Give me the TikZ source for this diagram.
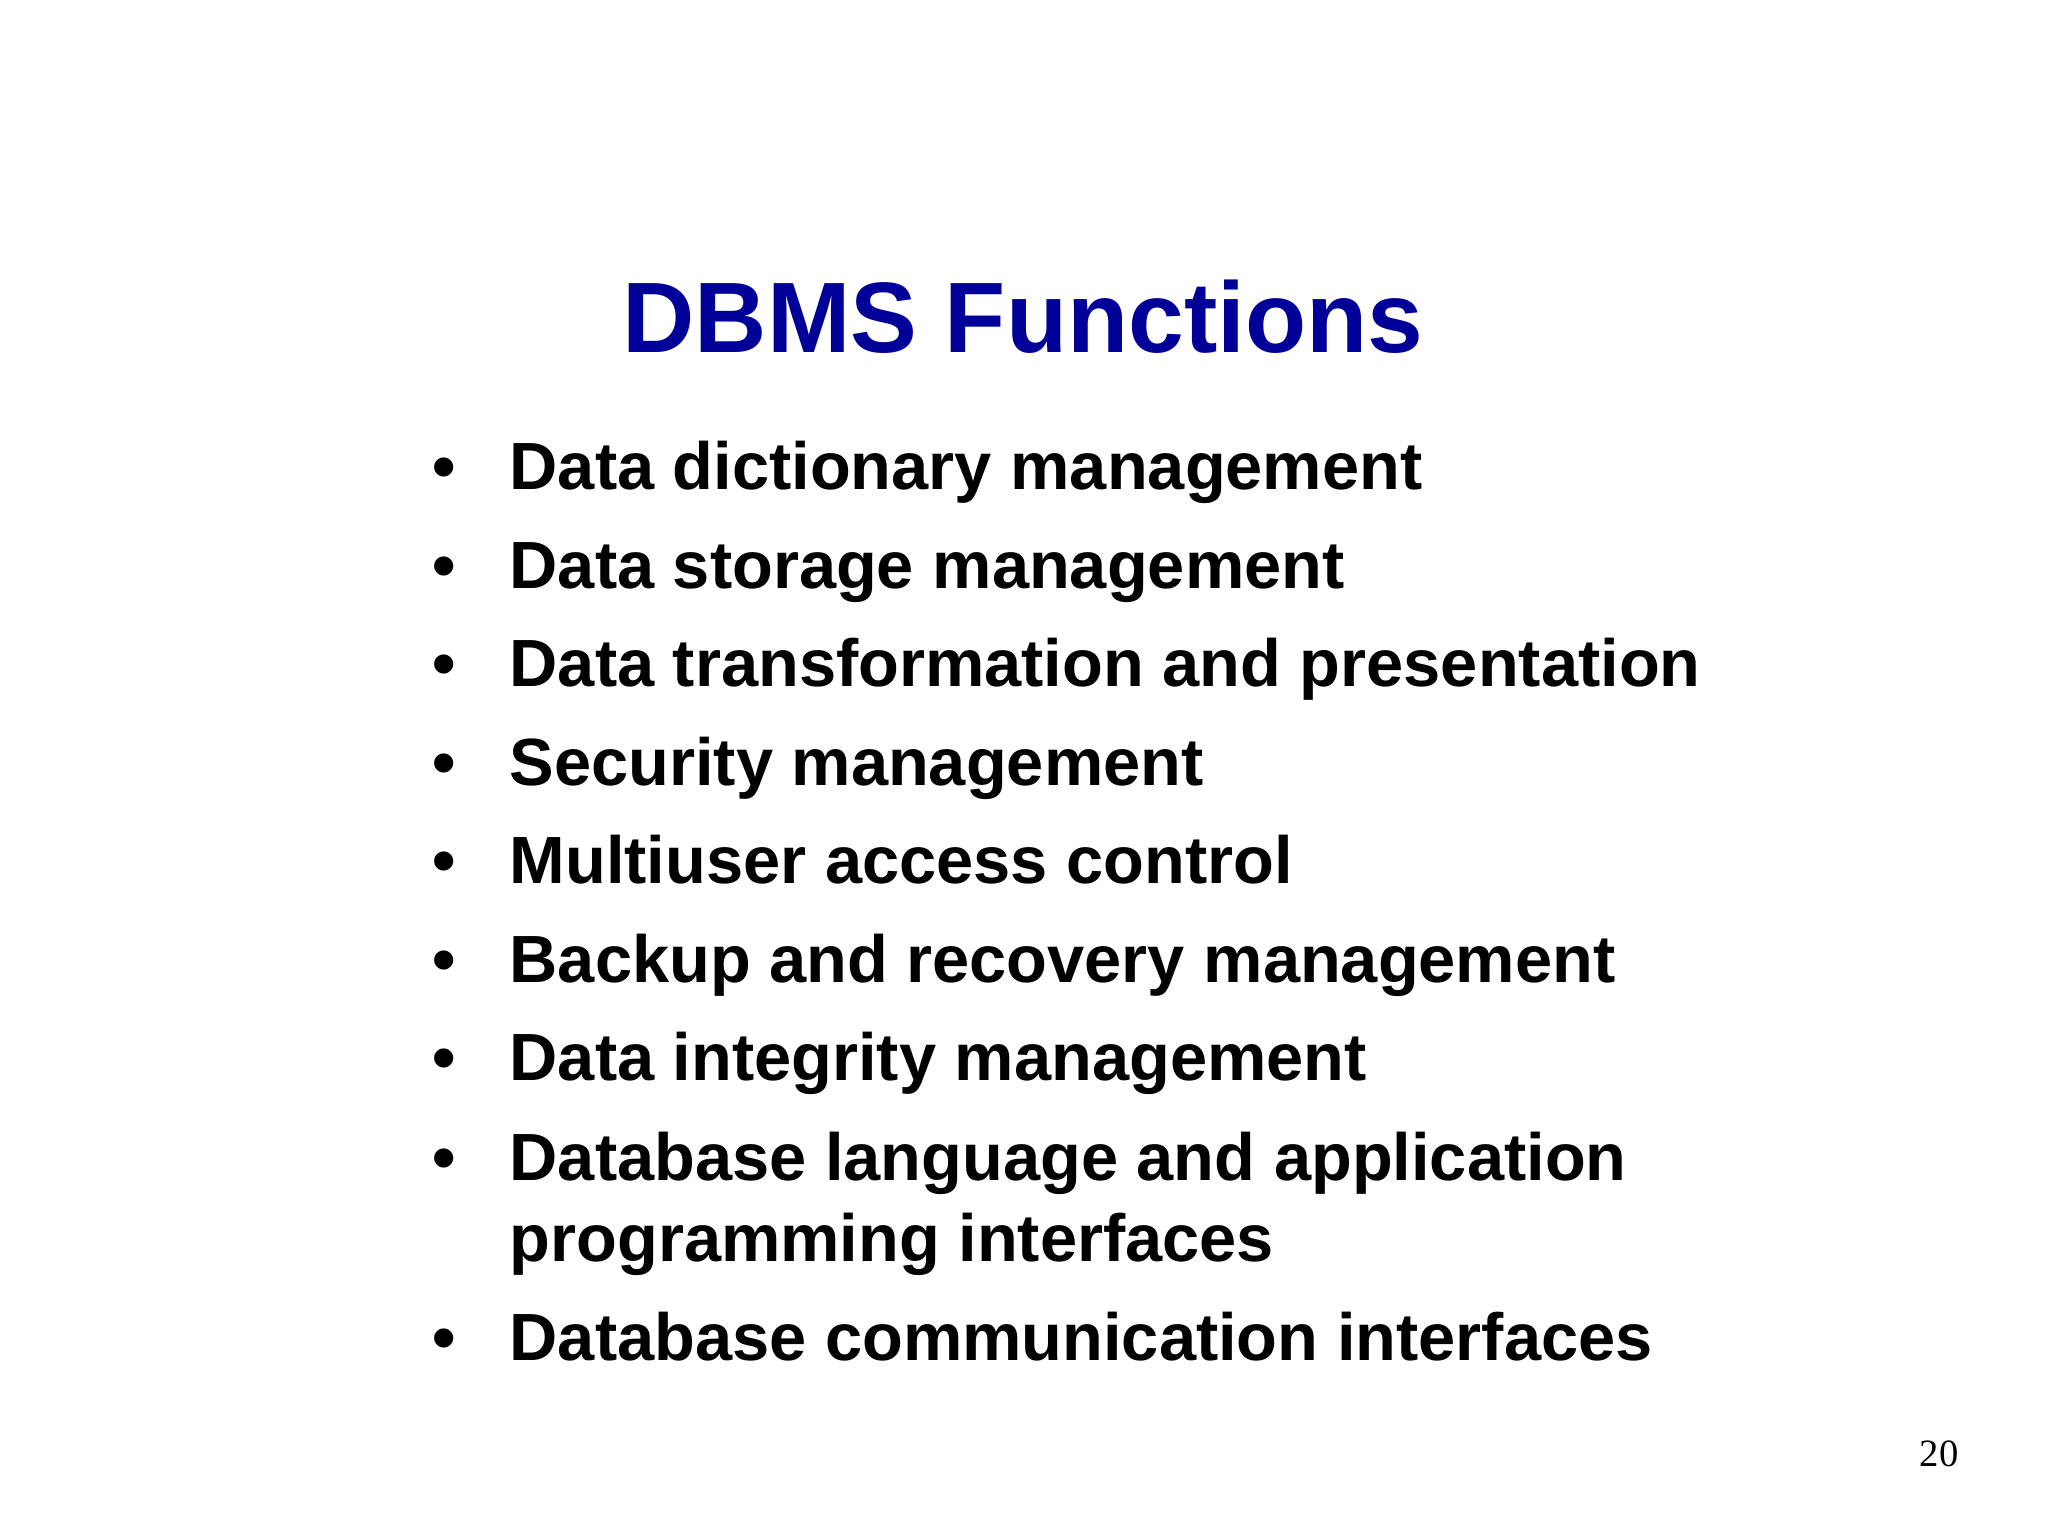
\documentclass[tikz,border=0pt]{standalone}
\usepackage{fontspec}
\setmainfont{Liberation Sans}
\newfontfamily\serifnum{Liberation Serif}
\definecolor{titleblue}{RGB}{0,0,153}
\begin{document}
\begin{tikzpicture}[x=1cm,y=1cm,
  item/.style={anchor=base west,inner sep=0pt,font=\fontsize{19}{23}\selectfont\bfseries},
  bul/.style={anchor=base,inner sep=0pt,font=\fontsize{19}{23}\selectfont\bfseries}]
\useasboundingbox (0,0) rectangle (20.48,15.36);
\fill[white] (0,0) rectangle (20.48,15.36);
\node[anchor=base,inner sep=0pt,text=titleblue,font=\fontsize{28.5}{34}\selectfont\bfseries] (title) at (10.23,15.36-3.53) {DBMS Functions};
\foreach \y/\t [count=\i] in {4.90/Data dictionary management,5.89/Data storage management,6.87/Data transformation and presentation,7.86/Security management,8.84/Multiuser access control,9.83/Backup and recovery management,10.81/Data integrity management,11.81/Database language and application,13.61/Database communication interfaces}{
  \node[bul] (b\i) at (4.44,15.36-\y) {•};
  \node[item] (t\i) at (5.09,15.36-\y) {\t};
}
\node[item] (t8b) at (5.09,15.36-12.62) {programming interfaces};
\node[anchor=base,inner sep=0pt,font=\serifnum\fontsize{11}{13}\selectfont] (pg) at (19.39,15.36-14.67) {20};
\end{tikzpicture}
\end{document}
